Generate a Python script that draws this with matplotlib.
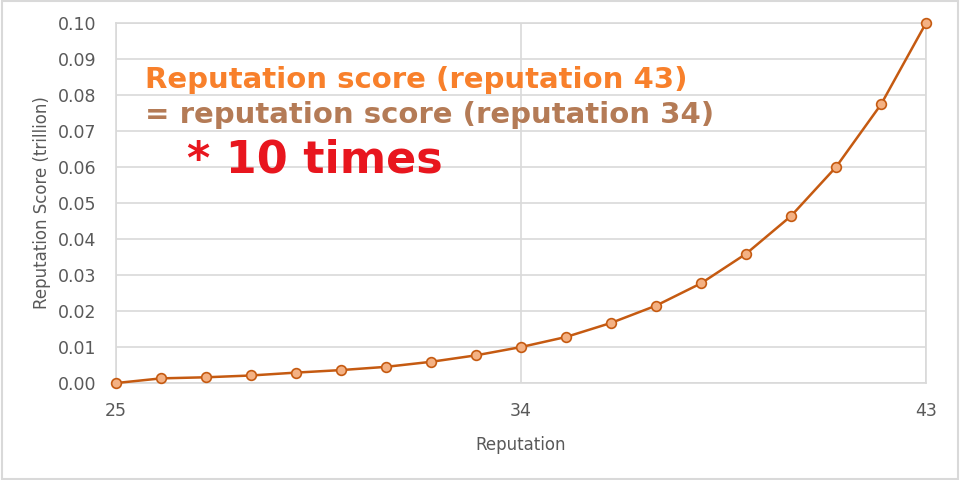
import matplotlib.pyplot as plt
from matplotlib.patches import Rectangle

plt.rcParams['font.family'] = ['DejaVu Sans']

# reputation levels and score (trillion)
reputation = [25, 26, 27, 28, 29, 30, 31, 32, 33, 34,
              35, 36, 37, 38, 39, 40, 41, 42, 43]
score = [0.0, 0.0013, 0.0016, 0.0021, 0.0029, 0.0036, 0.0045, 0.0059, 0.0077, 0.0100,
         0.0128, 0.0167, 0.0215, 0.0277, 0.0359, 0.0464, 0.0600, 0.0774, 0.1000]
x_ticks = [25, 34, 43]
y_ticks = [0.00, 0.01, 0.02, 0.03, 0.04, 0.05, 0.06, 0.07, 0.08, 0.09, 0.10]

grid_col = '#D9D9D9'
text_col = '#595959'

fig = plt.figure(figsize=(9.6, 4.8), dpi=100)
ax = fig.add_axes([0.121, 0.202, 0.8436, 0.750])

ax.plot(reputation, score, color='#C55A11', linewidth=1.8, zorder=3,
        marker='o', markersize=7, markerfacecolor='#F4B183',
        markeredgecolor='#C55A11', markeredgewidth=1.2, clip_on=False)

ax.set_xlim(25, 43)
ax.set_ylim(0, 0.10)
ax.set_xticks(x_ticks)
ax.set_yticks(y_ticks)
ax.set_yticklabels(['%.2f' % v for v in y_ticks])
ax.grid(True, color=grid_col, linewidth=1.2, zorder=0)
for s in ax.spines.values():
    s.set_color(grid_col)
    s.set_linewidth(1.2)
ax.tick_params(length=0, labelsize=12.5, colors=text_col)
ax.tick_params(axis='y', pad=14)
ax.tick_params(axis='x', pad=14)

ax.set_xlabel('Reputation', fontsize=12, color=text_col, labelpad=11)
ax.set_ylabel('Reputation Score (trillion)', fontsize=12, color=text_col, labelpad=5)

# annotation text
fig.text(145 / 960, 1 - 80 / 480, 'Reputation score (reputation 43)',
         fontsize=21, fontweight='bold', color='#F8802B', va='center', ha='left')
fig.text(145 / 960, 1 - 115 / 480, '= reputation score (reputation 34)',
         fontsize=21, fontweight='bold', color='#B47B56', va='center', ha='left')
fig.text(187 / 960, 1 - 160 / 480, '* 10 times',
         fontsize=32, fontweight='bold', color='#E8161E', va='center', ha='left')

# light border around the chart
fig.patches.append(Rectangle((0.002, 0.003), 0.996, 0.994, transform=fig.transFigure,
                             fill=False, edgecolor=grid_col, linewidth=1.5))

fig.savefig('out.png', dpi=100)
